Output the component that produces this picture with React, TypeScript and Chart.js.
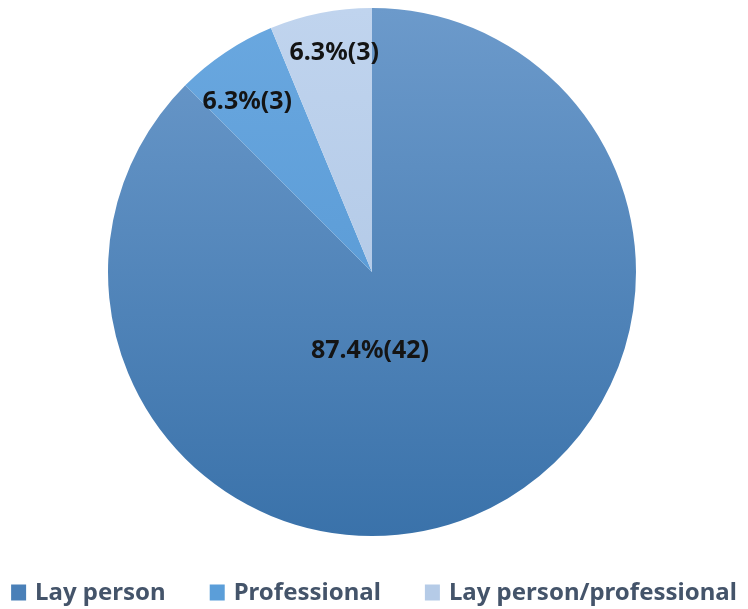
import React, { useEffect, useRef } from "react";
import { Chart, registerables } from "chart.js";

Chart.register(...registerables);

const categories = ["Lay person", "Professional", "Lay person/professional"];
const counts = [42, 3, 3];
const percentLabels = ["87.4%", "6.3%", "6.3%"];
const topColors = ["#6c9acb", "#6aa8e0", "#c0d4ee"];
const bottomColors = ["#3a72aa", "#4f92cf", "#a9c2e2"];
const legendColors = ["#4a80b8", "#5b9ed9", "#b5cbe7"];

const FONT = "'Noto Sans', sans-serif";

const labelPlugin = {
  id: "sliceLabels",
  afterDatasetsDraw(chart: any) {
    const ctx = chart.ctx;
    const meta = chart.getDatasetMeta(0);
    const nudge = [
      [-2, 0],
      [-3, 12],
      [5, -4],
    ];
    ctx.save();
    ctx.font = `bold 25px ${FONT}`;
    ctx.fillStyle = "#141414";
    ctx.textAlign = "center";
    ctx.textBaseline = "middle";
    meta.data.forEach((arc: any, i: number) => {
      const p = arc.getProps(["x", "y", "startAngle", "endAngle", "outerRadius"], true);
      let ang = (p.startAngle + p.endAngle) / 2;
      let frac = 0.83;
      if (p.endAngle - p.startAngle > Math.PI) {
        ang = Math.PI / 2;
        frac = 0.3;
      }
      const x = p.x + Math.cos(ang) * p.outerRadius * frac + nudge[i][0];
      const y = p.y + Math.sin(ang) * p.outerRadius * frac + nudge[i][1];
      ctx.fillText(`${percentLabels[i]}(${counts[i]})`, x, y);
    });
    ctx.restore();
  },
};

const legendPlugin = {
  id: "customLegend",
  afterDraw(chart: any) {
    const ctx = chart.ctx;
    ctx.save();
    ctx.font = `bold 24px ${FONT}`;
    ctx.textBaseline = "middle";
    const y = 592;
    const box = 15;
    const gapBoxText = 9;
    const gapItems = 44;
    let total = 0;
    const widths = categories.map((c) => ctx.measureText(c).width);
    widths.forEach((w: number, i: number) => {
      total += box + gapBoxText + w + (i < categories.length - 1 ? gapItems : 0);
    });
    let x = (chart.width - total) / 2;
    categories.forEach((c, i) => {
      ctx.fillStyle = legendColors[i];
      ctx.fillRect(x, y - box / 2, box, box + 1);
      x += box + gapBoxText;
      ctx.fillStyle = "#44546a";
      ctx.textAlign = "left";
      ctx.fillText(c, x, y + 1);
      x += widths[i] + gapItems;
    });
    ctx.restore();
  },
};

export default function App() {
  const ref = useRef<HTMLCanvasElement>(null);
  useEffect(() => {
    document.body.style.margin = "0";
    const chart = new Chart(ref.current as HTMLCanvasElement, {
      type: "pie",
      data: {
        labels: categories,
        datasets: [
          {
            data: counts,
            borderWidth: 0,
            backgroundColor: (c: any) => {
              const area = c.chart.chartArea;
              if (!area) return legendColors[c.dataIndex];
              const g = c.chart.ctx.createLinearGradient(0, area.top, 0, area.bottom);
              g.addColorStop(0, topColors[c.dataIndex]);
              g.addColorStop(1, bottomColors[c.dataIndex]);
              return g;
            },
          },
        ],
      },
      options: {
        animation: false,
        responsive: false,
        layout: { padding: { top: 8, bottom: 73, left: 0, right: 4 } },
        plugins: { legend: { display: false }, tooltip: { enabled: false } },
      },
      plugins: [labelPlugin, legendPlugin],
    });
    return () => chart.destroy();
  }, []);
  return (
    <div style={{ width: 748, height: 609, background: "#fff" }}>
      <canvas ref={ref} width={748} height={609} />
    </div>
  );
}
